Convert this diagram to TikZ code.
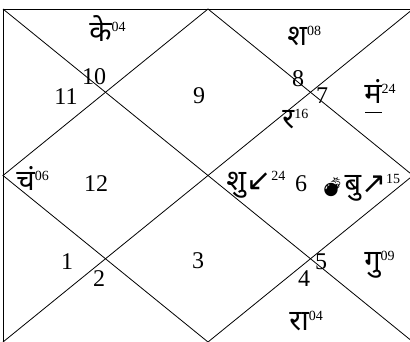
\documentclass[tikz,border=0pt]{standalone}
\usepackage{fontspec}
\setmainfont{Liberation Serif}
\newfontfamily\devfont[Script=Devanagari]{Noto Sans}
\newfontfamily\emofont{Noto Emoji}
\newfontfamily\symfont{DejaVu Sans}
\newcommand{\sps}[1]{\raisebox{10pt}{\fontsize{14}{14}\selectfont\rmfamily\mdseries #1}}
\newcommand{\arr}[1]{{\symfont\mdseries\fontsize{30}{30}\selectfont #1}}
\begin{document}
\begin{tikzpicture}[x=1pt,y=-1pt,line width=0.8pt,
  num/.style={font=\fontsize{24}{24}\selectfont, inner sep=0pt},
  pl/.style={font=\devfont\fontsize{29}{29}\selectfont, inner sep=0pt, anchor=base west},
  plb/.style={pl, font=\devfont\bfseries\fontsize{29}{29}\selectfont}]
\useasboundingbox (0,0) rectangle (410,341);
\clip (0,0) rectangle (410,341);
\coordinate (TL) at (3,9);
\coordinate (TR) at (413,9);
\coordinate (BL) at (3,342);
\coordinate (BR) at (413,342);
\coordinate (T) at (208,9);
\coordinate (L) at (3,175.5);
\coordinate (R) at (413,175.5);
\coordinate (B) at (208,342);
\draw (BL) -- (TL) -- (TR);
\draw (TL) -- (BR);
\draw (TR) -- (BL);
\draw (T) -- (R) -- (B) -- (L) -- cycle;
% house numbers
\node[num] (h10) at (94,77) {10};
\node[num] (h11) at (66,97) {11};
\node[num] (h9) at (199,96) {9};
\node[num] (h8) at (298,79) {8};
\node[num] (h7) at (322,96) {7};
\node[num] (h12) at (96,184) {12};
\node[num] (h6) at (301,184) {6};
\node[num] (h1) at (67,262) {1};
\node[num] (h2) at (99,279) {2};
\node[num] (h3) at (198,261) {3};
\node[num] (h5) at (321,262) {5};
\node[num] (h4) at (304,279) {4};
% planets
\node[plb] (ke) at (89,41) {के\sps{04}};
\node[pl] (sa) at (287,45) {श\sps{08}};
\node[pl] (ma) at (364,103) {मं\sps{24}};
\draw (365,112) -- (382,112);
\node[pl] (su) at (282,128) {र\sps{16}};
\node[pl] (mo) at (16,190) {चं\sps{06}};
\node[pl] (ve) at (226,190) {शु\arr{↙}\sps{24}};
\node[pl] (me) at (320,193) {{\emofont\fontsize{19}{19}\selectfont 💣}{\bfseries बु}\arr{↗}\sps{15}};
\node[pl] (ju) at (364,270) {गु\sps{09}};
\node[plb] (ra) at (289,330) {रा\sps{04}};
\end{tikzpicture}
\end{document}
